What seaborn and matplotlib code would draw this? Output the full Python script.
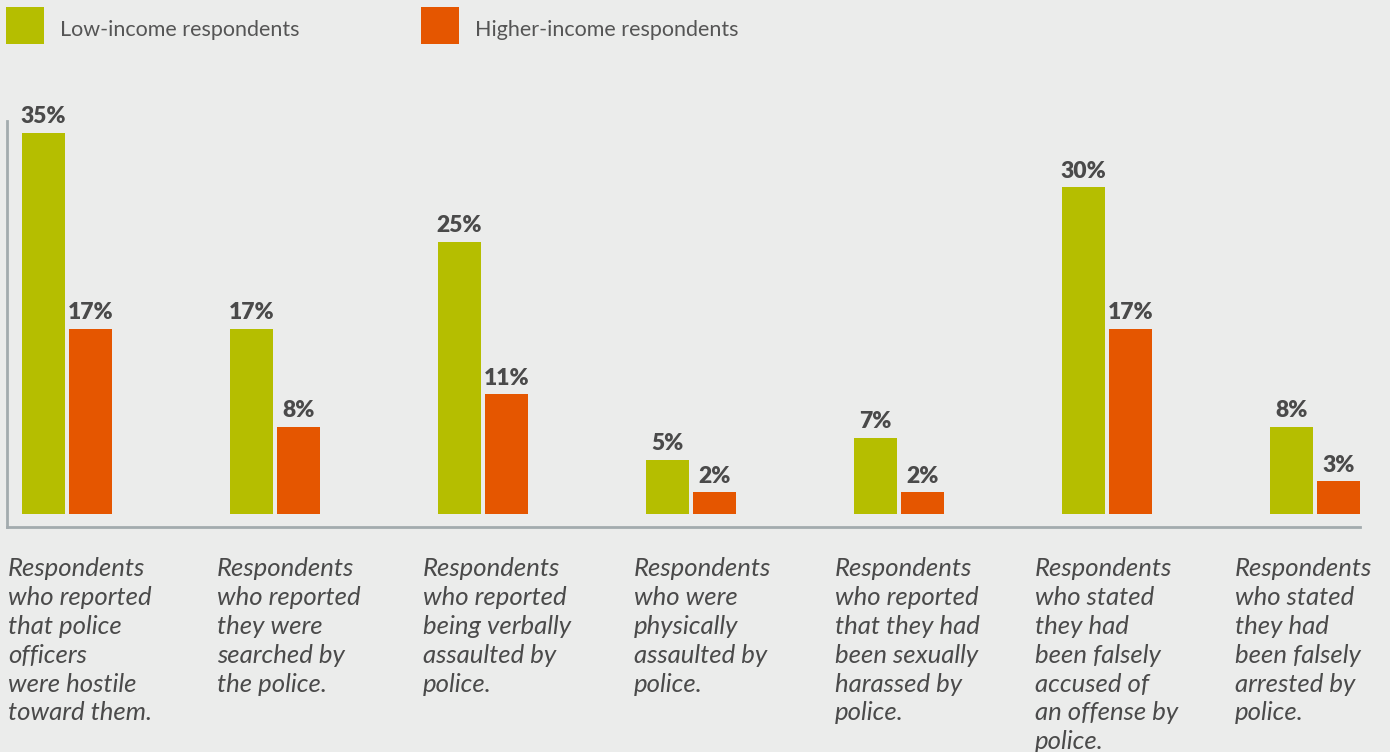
import pandas as pd
import matplotlib.pyplot as plt
import seaborn as sns
from matplotlib.patches import Rectangle

# Data
categories = [
    "Respondents\nwho reported\nthat police\nofficers\nwere hostile\ntoward them.",
    "Respondents\nwho reported\nthey were\nsearched by\nthe police.",
    "Respondents\nwho reported\nbeing verbally\nassaulted by\npolice.",
    "Respondents\nwho were\nphysically\nassaulted by\npolice.",
    "Respondents\nwho reported\nthat they had\nbeen sexually\nharassed by\npolice.",
    "Respondents\nwho stated\nthey had\nbeen falsely\naccused of\nan offense by\npolice.",
    "Respondents\nwho stated\nthey had\nbeen falsely\narrested by\npolice.",
]
series_names = ["Low-income respondents", "Higher-income respondents"]
low_income = [35, 17, 25, 5, 7, 30, 8]
higher_income = [17, 8, 11, 2, 2, 17, 3]

GREEN = "#b5be00"
ORANGE = "#e55600"
BG = "#ebeceb"
TEXT = "#4a4a4a"

df = pd.DataFrame({
    "cat": list(range(len(categories))) * 2,
    "series": [series_names[0]] * len(low_income) + [series_names[1]] * len(higher_income),
    "value": low_income + higher_income,
})

sns.set_theme(style="white")
plt.rcParams["font.family"] = ["Lato", "DejaVu Sans"]

fig = plt.figure(figsize=(13.9, 7.52), dpi=100, facecolor=BG)
ax = fig.add_axes([7 / 1390, 225 / 752, 1353 / 1390, 406 / 752])
ax.set_facecolor(BG)

sns.barplot(data=df, x="cat", y="value", hue="series", order=list(range(len(categories))),
            hue_order=series_names, palette=[GREEN, ORANGE], width=0.45, gap=0.08,
            saturation=1, linewidth=0, legend=False, ax=ax)

for cont in ax.containers:
    for bar in cont:
        h = bar.get_height()
        ax.annotate(f"{h:.0f}%", (bar.get_x() + bar.get_width() / 2, h),
                    xytext=(0, 4), textcoords="offset points", ha="center", va="bottom",
                    fontsize=16.5, fontweight="heavy", color=TEXT)

ax.set_xlim(-0.288, 6.216)
ax.set_ylim(-1.2, 36.1)
ax.set_xticks([])
ax.set_yticks([])
ax.set_xlabel("")
ax.set_ylabel("")
for side in ["top", "right"]:
    ax.spines[side].set_visible(False)
for side in ["left", "bottom"]:
    ax.spines[side].set_color("#a3abae")
    ax.spines[side].set_linewidth(2)

# category descriptions under the axis
label_x = [8, 217, 423, 634, 835, 1035, 1235]
for xp, txt in zip(label_x, categories):
    fig.text(xp / 1390, 1 - 557 / 752, txt, ha="left", va="top", fontsize=18.5,
             style="italic", color=TEXT, linespacing=1.31)

# legend at the top
legend_x = [6, 421]
for xp, name, col in zip(legend_x, series_names, [GREEN, ORANGE]):
    fig.patches.append(Rectangle((xp / 1390, 1 - 44 / 752), 38 / 1390, 37 / 752,
                                 transform=fig.transFigure, facecolor=col, edgecolor="none"))
    fig.text((xp + 54) / 1390, 1 - 30 / 752, name, ha="left", va="center",
             fontsize=15.5, color="#555555")

fig.savefig("out.png", dpi=100, facecolor=BG)
